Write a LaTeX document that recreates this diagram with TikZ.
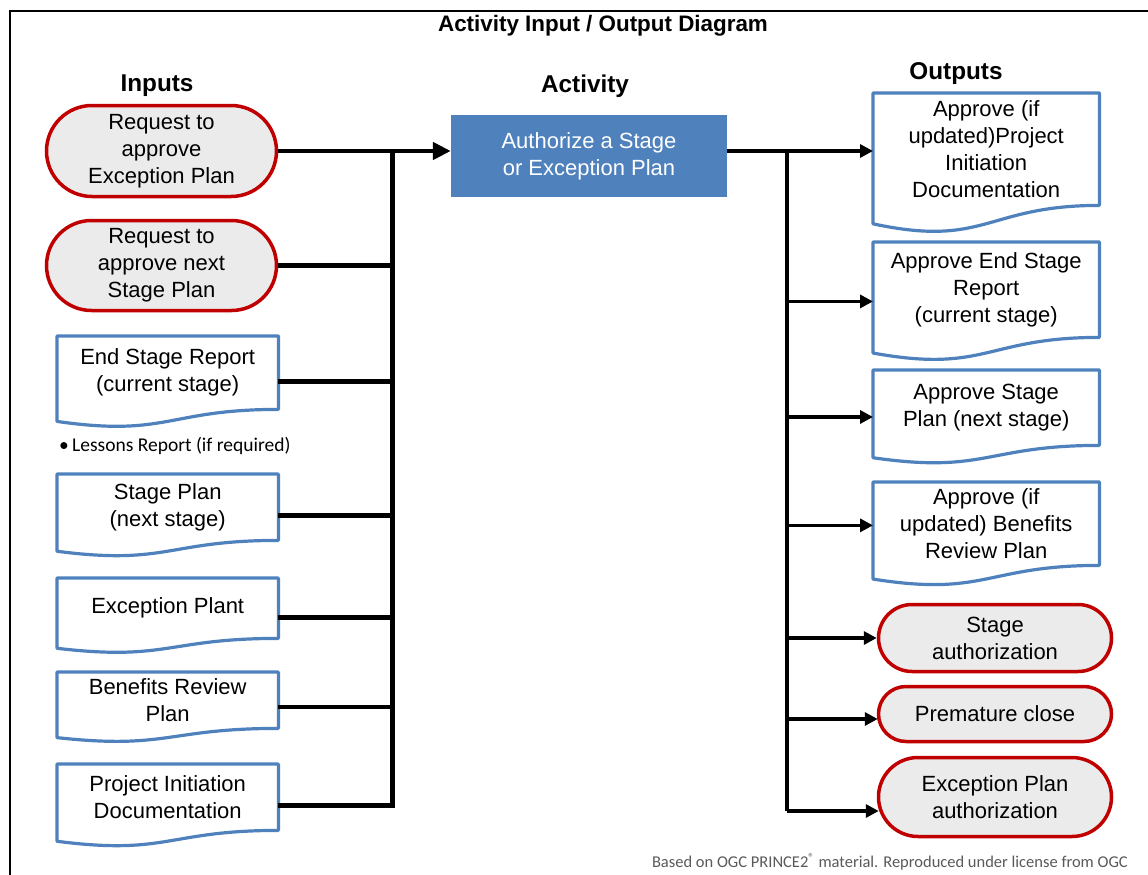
\documentclass[tikz,border=0pt]{standalone}
\usepackage{fontspec}
\setmainfont{Liberation Sans}
\newfontfamily\calib{Carlito}
\usetikzlibrary{calc,arrows.meta}
\definecolor{docblue}{RGB}{79,129,189}
\definecolor{pillred}{RGB}{192,0,0}
\definecolor{pillgray}{RGB}{235,235,235}
\definecolor{footgray}{RGB}{89,89,89}

% name, x, y(top), w, h, connector fraction, text
\newcommand\docbox[7]{%
  \node[doctext, minimum width=#4pt, minimum height=#5pt, anchor=north west] (#1) at (#2,#3) {#7};
  \draw[docline] (#1.north west) -- (#1.north east) -- (#1.south east)
     .. controls (#1.south) and ($(#1.south)+(0,0.3815*#5)$) .. ($(#1.south west)+(0,0.1646*#5)$) -- cycle;
  \coordinate (#1-ce) at ($(#1.north east)!#6!(#1.south east)$);
  \coordinate (#1-cw) at ($(#1.north west)!#6!(#1.south west)$);
}

\tikzset{
  x=1pt, y=-1pt,
  body/.style={font=\fontsize{22}{27}\selectfont},
  doctext/.style={body, inner sep=0pt, align=center},
  docline/.style={draw=docblue, line width=3.2pt, line join=round},
  pill/.style={body, draw=pillred, fill=pillgray, line width=3.5pt, align=center, inner sep=0pt},
  actbox/.style={body, fill=docblue, text=white, align=center, inner sep=0pt,
                 minimum width=276pt, minimum height=82pt},
  head/.style={font=\fontsize{24.3}{28}\selectfont\bfseries},
  lconn/.style={line width=4.5pt},
  lbus/.style={line width=5pt},
  mainarr/.style={line width=4.5pt, -{Triangle[length=18pt,width=17pt]}},
  rconn/.style={line width=3.5pt},
  rarr/.style={line width=3.5pt, -{Triangle[length=13pt,width=13pt]}},
}

\begin{document}
\begin{tikzpicture}
\useasboundingbox (0,0) rectangle (1148,875);

% frame
\draw[line width=2pt] (10,875) -- (10,11) -- (1148,11);

% titles
\node[font=\fontsize{22.4}{26}\selectfont\bfseries] (title) at (603,26) {Activity Input / Output Diagram};
\node[head] (hin) at (157,86) {Inputs};
\node[head] (hact) at (585,86) {Activity};
\node[head] (hout) at (956,74) {Outputs};

% inputs
\node[pill, minimum width=230pt, minimum height=91pt, rounded corners=45.5pt] (p1) at (161.5,151) {Request to\\approve\\Exception Plan};
\node[pill, minimum width=230pt, minimum height=90pt, rounded corners=45pt] (p2) at (161.5,265.5) {Request to\\approve next\\Stage Plan};
\docbox{d3}{57}{336}{221}{73}{0.623}{End Stage Report\\(current stage)}
\node[font=\calib\fontsize{19.5}{22}\selectfont, anchor=west, inner sep=0pt] (lessons) at (59,446) {•\,Lessons Report (if required)};
\docbox{d5}{57}{474}{221}{66}{0.623}{Stage Plan\\(next stage)}
\docbox{d6}{57}{578}{221}{60}{0.65}{Exception Plant}
\docbox{d7}{57}{672}{221}{56}{0.623}{Benefits Review\\Plan}
\docbox{d8}{57}{764}{221}{66}{0.623}{Project Initiation\\Documentation}

% activity
\node[actbox] (act) at (589,156) {Authorize a Stage\\or Exception Plan};

% outputs
\docbox{o1}{873}{93}{226}{112}{0.5}{Approve (if\\updated)Project\\Initiation\\Documentation}
\docbox{o2}{873}{242}{226}{95}{0.623}{Approve End Stage\\Report\\(current stage)}
\docbox{o3}{873}{370}{226}{75}{0.623}{Approve Stage\\Plan (next stage)}
\docbox{o4}{873}{482}{226}{83}{0.52}{Approve (if\\updated) Benefits\\Review Plan}
\node[pill, minimum width=233pt, minimum height=67pt, rounded corners=33.5pt] (stage) at (995,638) {Stage\\authorization};
\node[pill, minimum width=233pt, minimum height=55pt, rounded corners=27.5pt] (prem) at (995,714) {Premature close};
\node[pill, minimum width=233pt, minimum height=79pt, rounded corners=39.5pt] (exc) at (995,797) {Exception Plan\\authorization};

% left bus
\coordinate (lbt) at (392,151);
\coordinate (lbb) at (392,805);
\draw[lbus, line cap=rect] (lbt) -- (lbb);
\draw[lconn] (p2.east) -- (p2.east -| lbt);
\draw[lconn] (d3-ce) -- (d3-ce -| lbt);
\draw[lconn] (d5-ce) -- (d5-ce -| lbt);
\draw[lconn] (d6-ce) -- (d6-ce -| lbt);
\draw[lconn] (d7-ce) -- (d7-ce -| lbt);
\draw[lconn] (d8-ce) -- (d8-ce -| lbt);
\draw[mainarr] (p1.east) -- (p1.east -| act.west);

% right bus
\coordinate (aout) at (act.east |- p1.east);
\coordinate (rbt) at (787,151);
\coordinate (rbb) at ($(exc.west -| rbt)+(0,14)$);
\draw[rconn] (rbt) -- (rbb);
\draw[rarr] (aout) -- (aout -| o1.west);
\draw[rarr] (o2-cw -| rbt) -- (o2-cw);
\draw[rarr] (o3-cw -| rbt) -- (o3-cw);
\draw[rarr] (o4-cw -| rbt) -- (o4-cw);
\draw[rarr] (stage.west -| rbt) -- (stage.west);
\draw[rarr] ($(prem.west -| rbt)+(0,5)$) -- ($(prem.west)+(1,5)$);
\draw[rarr] (rbb) -- ($(exc.west)+(2,14)$);

% footer
\node[font=\calib\fontsize{16.5}{19}\selectfont, text=footgray, anchor=east, inner sep=0pt] (foot) at (1128,862) {Based on OGC PRINCE2\textsuperscript{®} material. Reproduced under license from OGC};
\end{tikzpicture}
\end{document}
